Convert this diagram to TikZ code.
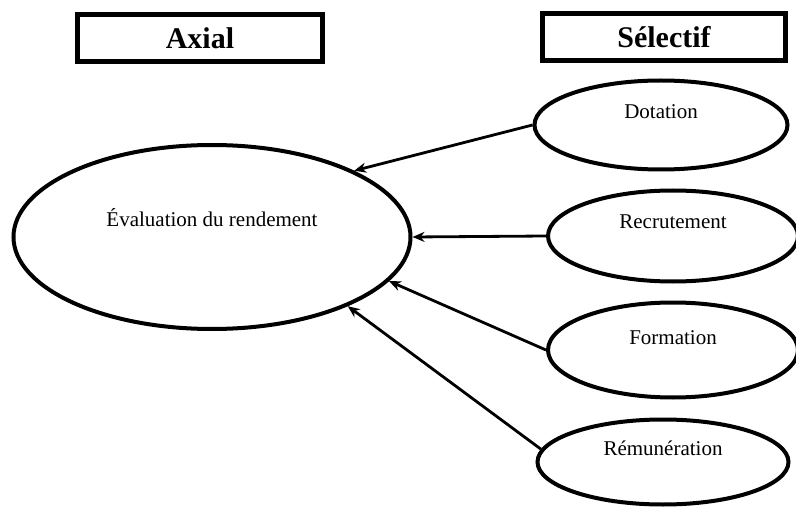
\documentclass[tikz,border=0pt]{standalone}
\usepackage{fontspec}
\setmainfont{Liberation Serif}
\usetikzlibrary{arrows.meta,shapes.geometric}

\begin{document}
\begin{tikzpicture}[x=1pt,y=-1pt,
    titre/.style={draw,line width=5pt,minimum height=47pt,inner sep=0pt,
      font=\fontsize{30}{34}\selectfont\bfseries},
    bulle/.style={draw,ellipse,line width=4pt,inner sep=0pt},
    fleche/.style={-{Stealth[length=12pt,width=10pt]},line width=2.8pt}]
        \useasboundingbox (0,0) rectangle (796,508);

        % Axial
        \node[titre,minimum width=245pt] (axial) at (200,38) {Axial};

        % Selectif
        \node[titre,minimum width=243pt] (selectif) at (664,37) {Sélectif};

        % Evaluation du rendement
        \node[bulle,minimum width=397pt,minimum height=184pt,
          label={[font=\fontsize{21}{24}\selectfont,yshift=19pt]center:Évaluation du rendement}]
          (eval) at (212,237) {};

        % Dotation
        \node[bulle,minimum width=253pt,minimum height=89pt,
          label={[font=\fontsize{21}{24}\selectfont,yshift=13pt]center:Dotation}]
          (dot) at (661,125) {};

        % Recrutement
        \node[bulle,minimum width=250pt,minimum height=91pt,
          label={[font=\fontsize{21}{24}\selectfont,yshift=14pt]center:Recrutement}]
          (rec) at (673,236) {};

        % Formation
        \node[bulle,minimum width=250pt,minimum height=95pt,
          label={[font=\fontsize{21}{24}\selectfont,yshift=12pt]center:Formation}]
          (form) at (673,350) {};

        % Remuneration
        \node[bulle,minimum width=251pt,minimum height=85pt,
          label={[font=\fontsize{21}{24}\selectfont,yshift=14pt]center:Rémunération}]
          (rem) at (663,462) {};

        % Fleches
        \draw[fleche] (dot.west) -- (eval.25);
        \draw[fleche] (rec.west) -- (eval.east);
        \draw[fleche] (form.west) -- (eval.-14);
        \draw[fleche] (rem.174) -- (eval.-27);
\end{tikzpicture}
\end{document}
